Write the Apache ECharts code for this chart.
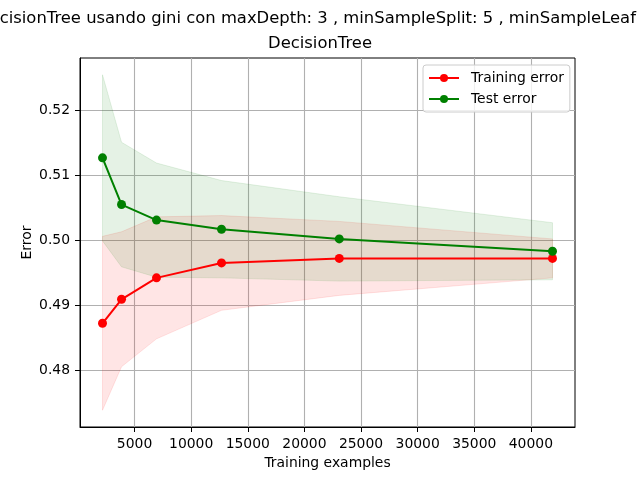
<!DOCTYPE html>
<html>
<head>
<meta charset="utf-8">
<script src="https://cdn.jsdelivr.net/npm/echarts@6/dist/echarts.min.js"></script>
<style>
html, body { margin: 0; padding: 0; background: #fff; }
#main { width: 640px; height: 480px; }
</style>
</head>
<body>
<div id="main"></div>
<script>
var trainSizes = [2170, 3850, 6940, 12680, 23080, 41910];
var trainErrMean = [0.4872, 0.4909, 0.4942, 0.4965, 0.4972, 0.4972];
var trainErrStd = [0.0134, 0.0104, 0.0094, 0.0073, 0.0057, 0.0030];
var testErrMean = [0.5127, 0.5055, 0.5031, 0.5017, 0.5002, 0.4983];
var testErrStd = [0.0128, 0.0096, 0.0088, 0.0075, 0.0065, 0.0044];
var xTicks = [5000, 10000, 15000, 20000, 25000, 30000, 35000, 40000];
var yTicks = [0.48, 0.49, 0.50, 0.51, 0.52];

function pairs(xs, ys) {
  return xs.map(function (x, i) { return [x, ys[i]]; });
}
var trainLow = trainErrMean.map(function (m, i) { return m - trainErrStd[i]; });
var trainHigh = trainErrMean.map(function (m, i) { return m + trainErrStd[i]; });
var testLow = testErrMean.map(function (m, i) { return m - testErrStd[i]; });
var testHigh = testErrMean.map(function (m, i) { return m + testErrStd[i]; });

// margenes tipo matplotlib (5%)
var xr = trainSizes[trainSizes.length - 1] - trainSizes[0];
var xMin = trainSizes[0] - 0.05 * xr, xMax = trainSizes[trainSizes.length - 1] + 0.05 * xr;
var yLo = Math.min.apply(null, trainLow.concat(testLow));
var yHi = Math.max.apply(null, trainHigh.concat(testHigh));
var yMin = yLo - 0.05 * (yHi - yLo), yMax = yHi + 0.05 * (yHi - yLo);

var font = 'DejaVu Sans';

// banda media +- std como poligono
function bandSeries(low, high, rgb) {
  return {
    type: 'custom', silent: true, z: 1,
    data: trainSizes.map(function (x, i) { return [x, low[i], high[i]]; }),
    renderItem: function (params, api) {
      if (params.dataIndex !== 0) return null;
      var pts = [];
      for (var i = 0; i < trainSizes.length; i++) pts.push(api.coord([trainSizes[i], high[i]]));
      for (var j = trainSizes.length - 1; j >= 0; j--) pts.push(api.coord([trainSizes[j], low[j]]));
      return {
        type: 'polygon',
        shape: { points: pts },
        style: { fill: 'rgba(' + rgb + ',0.1)', stroke: 'rgba(' + rgb + ',0.1)', lineWidth: 1 }
      };
    },
    encode: { x: 0, y: [1, 2] }
  };
}

var option = {
  animation: false,
  backgroundColor: '#fff',
  title: [{
    text: 'DecisionTree usando gini con maxDepth: 3 , minSampleSplit: 5 , minSampleLeaf',
    left: -23, top: 11, padding: 0,
    textStyle: { fontFamily: font, fontSize: 16.4, fontWeight: 'normal', color: '#000' }
  }, {
    text: 'DecisionTree',
    left: 'center', top: 36, padding: 0,
    textStyle: { fontFamily: font, fontSize: 16.4, fontWeight: 'normal', color: '#000' }
  }],
  legend: {
    data: ['Training error', 'Test error'],
    orient: 'vertical', left: 423, top: 65,
    padding: [6, 6, 6, 5], itemGap: 7, itemWidth: 30, itemHeight: 10,
    backgroundColor: 'rgba(255,255,255,0.8)', borderColor: '#cccccc', borderWidth: 1, borderRadius: 3,
    textStyle: { fontFamily: font, fontSize: 13.9, color: '#000', padding: [0, 0, 0, 7] }
  },
  grid: { left: 80, right: 65, top: 58, bottom: 53, show: true, borderColor: '#000', borderWidth: 1 },
  xAxis: {
    type: 'value', min: xMin, max: xMax,
    name: 'Training examples', nameLocation: 'middle', nameGap: 28,
    nameTextStyle: { fontFamily: font, fontSize: 13.9, color: '#000' },
    axisLine: { show: true, onZero: false, lineStyle: { color: '#000', width: 1 } },
    axisTick: { show: true, length: 5, customValues: xTicks, lineStyle: { color: '#000' } },
    axisLabel: {
      customValues: xTicks, margin: 10, fontFamily: font, fontSize: 13.9, color: '#000',
      formatter: function (v) { return String(v); }
    },
    splitLine: { show: true, lineStyle: { color: '#b0b0b0', width: 1.1 } }
  },
  yAxis: {
    type: 'value', min: yMin, max: yMax,
    name: 'Error', nameLocation: 'middle', nameGap: 46, nameMoveOverlap: false,
    nameTextStyle: { fontFamily: font, fontSize: 13.9, color: '#000' },
    axisLine: { show: true, onZero: false, lineStyle: { color: '#000', width: 1 } },
    axisTick: { show: true, length: 5, customValues: yTicks, lineStyle: { color: '#000' } },
    axisLabel: {
      customValues: yTicks, margin: 10, fontFamily: font, fontSize: 13.9, color: '#000',
      formatter: function (v) { return v.toFixed(2); }
    },
    splitLine: { show: true, lineStyle: { color: '#b0b0b0', width: 1.1 } }
  },
  series: [
    bandSeries(trainLow, trainHigh, '255,0,0'),
    bandSeries(testLow, testHigh, '0,128,0'),
    {
      name: 'Training error', type: 'line', data: pairs(trainSizes, trainErrMean),
      symbol: 'circle', symbolSize: 9, z: 3,
      lineStyle: { color: '#ff0000', width: 2 }, itemStyle: { color: '#ff0000' }
    }, {
      name: 'Test error', type: 'line', data: pairs(trainSizes, testErrMean),
      symbol: 'circle', symbolSize: 9, z: 4,
      lineStyle: { color: '#008000', width: 2 }, itemStyle: { color: '#008000' }
    }
  ]
};

var myChart = echarts.init(document.getElementById('main'));
myChart.setOption(option);
</script>
</body>
</html>
